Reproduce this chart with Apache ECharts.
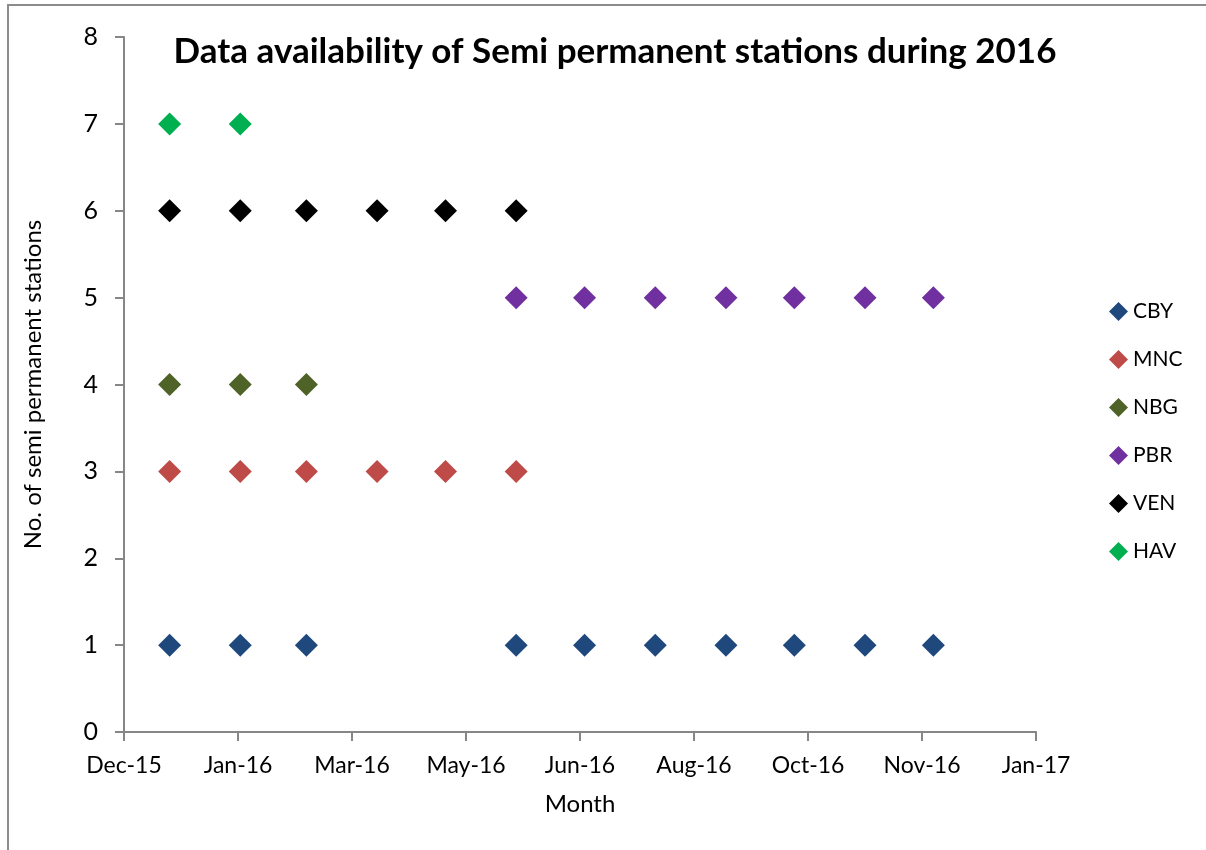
<!DOCTYPE html>
<html>
<head>
<meta charset="utf-8">
<script src="https://cdn.jsdelivr.net/npm/echarts@6/dist/echarts.min.js"></script>
<style>html,body{margin:0;padding:0;background:#fff}#c{width:1206px;height:850px}</style>
</head>
<body>
<div id="c"></div>
<script>
// Month dates (first of month) for each station series, value = station number
const CBY_dates = ['2016-01-01','2016-02-01','2016-03-01','2016-06-01','2016-07-01','2016-08-01','2016-09-01','2016-10-01','2016-11-01','2016-12-01'];
const CBY_values = [1,1,1,1,1,1,1,1,1,1];
const MNC_dates = ['2016-01-01','2016-02-01','2016-03-01','2016-04-01','2016-05-01','2016-06-01'];
const MNC_values = [3,3,3,3,3,3];
const NBG_dates = ['2016-01-01','2016-02-01','2016-03-01'];
const NBG_values = [4,4,4];
const PBR_dates = ['2016-06-01','2016-07-01','2016-08-01','2016-09-01','2016-10-01','2016-11-01','2016-12-01'];
const PBR_values = [5,5,5,5,5,5,5];
const VEN_dates = ['2016-01-01','2016-02-01','2016-03-01','2016-04-01','2016-05-01','2016-06-01'];
const VEN_values = [6,6,6,6,6,6];
const HAV_dates = ['2016-01-01','2016-02-01'];
const HAV_values = [7,7];

// x axis in Excel date serials (Dec-15 .. Jan-17, step 50 days)
const xMin = 42350, xMax = 42750, xStep = 50;
const monthNames = ['Jan','Feb','Mar','Apr','May','Jun','Jul','Aug','Sep','Oct','Nov','Dec'];

function toSerial(s){
  const p = s.split('-').map(Number);
  return Math.round((Date.UTC(p[0],p[1]-1,p[2]) - Date.UTC(1899,11,30))/86400000);
}
function fmt(serial){
  const d = new Date(Date.UTC(1899,11,30) + serial*86400000);
  return monthNames[d.getUTCMonth()] + '-' + String(d.getUTCFullYear()).slice(2);
}
function pts(dates, vals){ return dates.map((d,i)=>[toSerial(d), vals[i]]); }

const seriesDefs = [
  {name:'CBY', data:pts(CBY_dates,CBY_values), color:'#1F497D'},
  {name:'MNC', data:pts(MNC_dates,MNC_values), color:'#BE4B48'},
  {name:'NBG', data:pts(NBG_dates,NBG_values), color:'#4F6228'},
  {name:'PBR', data:pts(PBR_dates,PBR_values), color:'#7030A0'},
  {name:'VEN', data:pts(VEN_dates,VEN_values), color:'#000000'},
  {name:'HAV', data:pts(HAV_dates,HAV_values), color:'#00B050'}
];

const FONT = 'Lato';
const chart = echarts.init(document.getElementById('c'), null, {renderer:'canvas'});
chart.setOption({
  animation:false,
  backgroundColor:'#fff',
  graphic:[{type:'rect', shape:{x:8,y:5,width:1210,height:860}, style:{fill:'none', stroke:'#8c8c8c', lineWidth:2}, silent:true}],
  title:{
    text:'Data availability of Semi permanent stations during 2016',
    left:610, top:29, textAlign:'center',
    textStyle:{fontFamily:FONT, fontWeight:'bold', fontSize:35, color:'#000'}
  },
  legend:{
    orient:'vertical', left:1104, top:296, itemGap:27,
    itemWidth:19, itemHeight:19,
    icon:'diamond',
    textStyle:{fontFamily:FONT, fontSize:21, color:'#000', padding:[0,0,0,0]},
    data:seriesDefs.map(s=>s.name)
  },
  grid:{left:124, right:170, top:37, bottom:118, containLabel:false},
  xAxis:{
    type:'value', min:xMin, max:xMax, interval:xStep,
    name:'Month', nameLocation:'middle', nameGap:60,
    nameTextStyle:{fontFamily:FONT, fontSize:24, color:'#000'},
    axisLine:{show:true, onZero:false, lineStyle:{color:'#868686', width:2}},
    axisTick:{show:true, inside:false, length:9, lineStyle:{color:'#868686', width:2}},
    axisLabel:{formatter:fmt, fontFamily:FONT, fontSize:23, color:'#000', margin:22},
    splitLine:{show:false}
  },
  yAxis:{
    type:'value', min:0, max:8, interval:1,
    name:'No. of semi permanent stations', nameLocation:'middle', nameGap:79, nameRotate:90,
    nameTextStyle:{fontFamily:FONT, fontSize:24, color:'#000'},
    axisLine:{show:true, lineStyle:{color:'#868686', width:2}},
    axisTick:{show:true, inside:false, length:9, lineStyle:{color:'#868686', width:2}},
    axisLabel:{fontFamily:FONT, fontSize:25, color:'#000', margin:26},
    splitLine:{show:false}
  },
  series:seriesDefs.map(s=>({
    name:s.name, type:'scatter', data:s.data,
    symbol:'diamond', symbolSize:[23,23],
    itemStyle:{color:s.color, opacity:1}
  }))
});
</script>
</body>
</html>
